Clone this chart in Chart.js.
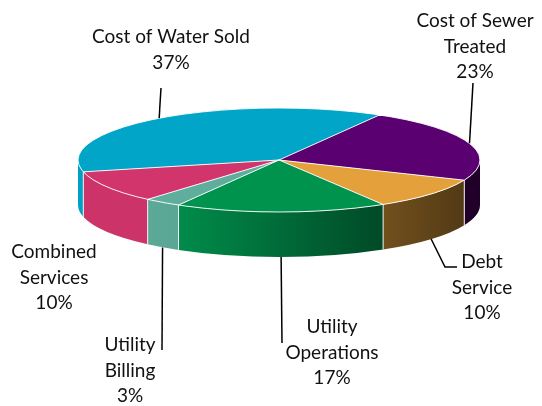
<!DOCTYPE html>
<html>
<head>
<meta charset="utf-8">
<script src="https://cdn.jsdelivr.net/npm/chart.js@4"></script>
<style>
  body { margin: 0; background: #fff; }
  canvas { display: block; }
</style>
</head>
<body>
<canvas id="myChart" width="542" height="406"></canvas>
<script>
// datos del grafico
const categorias = ['Cost of Water Sold', 'Cost of Sewer Treated', 'Debt Service', 'Utility Operations', 'Utility Billing', 'Combined Services'];
const etiquetas = [['Cost of Water Sold'], ['Cost of Sewer', 'Treated'], ['Debt', 'Service'], ['Utility', 'Operations'], ['Utility', 'Billing'], ['Combined', 'Services']];
const porcentajes = [37, 23, 10, 17, 3, 10];
const colores = ['#00a5c8', '#5a0070', '#e4a03a', '#00934e', '#5fae9d', '#d2356c'];

// elipse del pastel en pantalla
const CX = 279, CY = 160, RX = 201, RY = 52, PROF = 45;

// posicion de las etiquetas y fin de la linea guia
const posEtiquetas = [
    { x: 171, y: 37, linea: [[161, 88]] },
    { x: 475, y: 21, linea: [[473, 83]] },
    { x: 482, y: 262, linea: [[445, 267], [457, 267]] },
    { x: 332, y: 327, linea: [[282, 343]] },
    { x: 130, y: 345, linea: [[162, 350]] },
    { x: 54, y: 252, linea: null }
];

function sombra(hex, f) {
    var r = parseInt(hex.substr(1, 2), 16), g = parseInt(hex.substr(3, 2), 16), b = parseInt(hex.substr(5, 2), 16);
    return 'rgb(' + Math.round(r * f) + ',' + Math.round(g * f) + ',' + Math.round(b * f) + ')';
}

// luz desde la izquierda
function luz(x) {
    if (x <= 170) return 0.97;
    if (x <= 385) return 0.97 - (x - 170) / 215 * 0.47;
    if (x <= 462) return 0.45 - (x - 385) / 77 * 0.03;
    return 0.36;
}

function norm(a) {
    var t = Math.PI * 2;
    return ((a % t) + t) % t;
}

const pastel3d = {
    id: 'pastel3d',
    beforeDatasetsDraw(chart) {
        const ctx = chart.ctx;
        const arcs = chart.getDatasetMeta(0).data;
        // lados del pastel (solo la mitad frontal)
        arcs.forEach(function (arc, i) {
            var s = norm(arc.startAngle);
            var e = s + (arc.endAngle - arc.startAngle);
            [[0, Math.PI], [Math.PI * 2, Math.PI * 3]].forEach(function (r) {
                var a1 = Math.max(s, r[0]), a2 = Math.min(e, r[1]);
                if (a2 <= a1) return;
                var x1 = CX + RX * Math.cos(a1), x2 = CX + RX * Math.cos(a2);
                var xl = Math.min(x1, x2), xr = Math.max(x1, x2);
                var grad = ctx.createLinearGradient(xl, 0, xr + 0.01, 0);
                grad.addColorStop(0, sombra(colores[i], luz(xl + 1)));
                grad.addColorStop(1, sombra(colores[i], luz(xr - 1)));
                ctx.beginPath();
                ctx.ellipse(CX, CY, RX, RY, 0, a1, a2, false);
                ctx.ellipse(CX, CY + PROF, RX, RY, 0, a2, a1, true);
                ctx.closePath();
                ctx.fillStyle = grad;
                ctx.fill();
            });
        });
        // separadores blancos en el lado
        ctx.strokeStyle = 'rgba(255,255,255,0.9)';
        ctx.lineWidth = 1;
        arcs.forEach(function (arc) {
            var a = norm(arc.startAngle);
            if (a > 0.02 && a < Math.PI - 0.02) {
                var x = CX + RX * Math.cos(a), y = CY + RY * Math.sin(a);
                ctx.beginPath();
                ctx.moveTo(x, y);
                ctx.lineTo(x, y + PROF);
                ctx.stroke();
            }
        });
        // cara superior: aplastar el circulo de Chart.js en la elipse
        const a0 = arcs[0];
        ctx.save();
        ctx.translate(CX, CY);
        ctx.scale(RX / a0.outerRadius, RY / a0.outerRadius);
        ctx.translate(-a0.x, -a0.y);
    },
    afterDatasetsDraw(chart) {
        const ctx = chart.ctx;
        ctx.restore();
        const arcs = chart.getDatasetMeta(0).data;
        ctx.strokeStyle = 'rgba(255,255,255,0.9)';
        ctx.lineWidth = 1;
        arcs.forEach(function (arc) {
            var a = arc.startAngle;
            ctx.beginPath();
            ctx.moveTo(CX, CY);
            ctx.lineTo(CX + RX * Math.cos(a), CY + RY * Math.sin(a));
            ctx.stroke();
        });
        ctx.beginPath();
        ctx.ellipse(CX, CY, RX, RY, 0, 0, Math.PI * 2);
        ctx.stroke();
    },
    afterDraw(chart) {
        const ctx = chart.ctx;
        const arcs = chart.getDatasetMeta(0).data;
        ctx.save();
        // lineas guia
        ctx.strokeStyle = '#000';
        ctx.lineWidth = 1.5;
        arcs.forEach(function (arc, i) {
            var p = posEtiquetas[i];
            if (!p.linea) return;
            var m = (arc.startAngle + arc.endAngle) / 2;
            var x = CX + RX * Math.cos(m), y = CY + RY * Math.sin(m);
            if (Math.sin(m) > 0) y += PROF;
            ctx.beginPath();
            ctx.moveTo(x, y);
            p.linea.forEach(function (q) { ctx.lineTo(q[0], q[1]); });
            ctx.stroke();
        });
        // textos
        ctx.fillStyle = '#111';
        ctx.font = '19px Lato';
        ctx.textAlign = 'center';
        ctx.textBaseline = 'middle';
        etiquetas.forEach(function (lineas, i) {
            var p = posEtiquetas[i];
            var todas = lineas.concat([porcentajes[i] + '%']);
            todas.forEach(function (t, k) {
                ctx.fillText(t, p.x, p.y + k * 25.5);
            });
        });
        ctx.restore();
    }
};

function dibujarPastel() {
    const ctx = document.getElementById('myChart').getContext('2d');
    new Chart(ctx, {
        type: 'pie',
        data: {
            labels: categorias,
            datasets: [{
                data: porcentajes,
                backgroundColor: colores,
                borderWidth: 0,
                clip: false
            }]
        },
        options: {
            responsive: false,
            animation: false,
            rotation: 256.8,
            plugins: {
                legend: { display: false },
                tooltip: { enabled: false }
            }
        },
        plugins: [pastel3d]
    });
}

dibujarPastel();
</script>
</body>
</html>
